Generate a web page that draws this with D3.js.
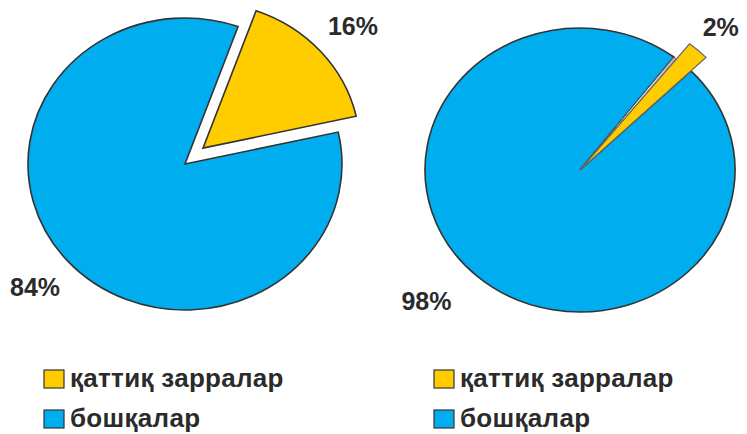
<!DOCTYPE html>
<html>
<head>
<meta charset="utf-8">
<script src="https://cdn.jsdelivr.net/npm/d3@7"></script>
<style>
  body { margin: 0; background: #fff; }
  svg { display: block; }
  text { font-family: "Liberation Sans", Arial, sans-serif; font-weight: bold; fill: #2b2b2b; }
</style>
</head>
<body>
<svg></svg>
<script>
var w = 747, h = 434;

// data
var categories = ["қаттиқ зарралар", "бошқалар"];
var leftValues = [16, 84];
var rightValues = [2, 98];
var colors = ["#ffcc00", "#00aeef"];

var svg = d3.select("svg").attr("width", w).attr("height", h);

var color = d3.scaleOrdinal().domain(categories).range(colors);

function pctLabel(x, y, v) {
    svg.append("text")
        .attr("x", x)
        .attr("y", y)
        .attr("dy", "0.36em")
        .attr("text-anchor", "middle")
        .style("font-size", "25px")
        .text(v + "%");
}

// left pie: yellow slice pulled out
function drawLeft() {
    var cx = 185, cy = 164, r = 157, sy = 0.93, explode = 24, labelR = 200;
    var pie = d3.pie().sort(null).value(d => d.v)
        .startAngle(0.345).endAngle(0.345 + 2 * Math.PI);
    var arcs = pie(categories.map((c, i) => ({c: c, v: leftValues[i]})));
    var arc = d3.arc().innerRadius(0).outerRadius(r);

    var g = svg.append("g").attr("transform", "translate(" + cx + "," + cy + ") scale(1," + sy + ")");

    arcs.forEach((d, i) => {
        var mid = (d.startAngle + d.endAngle) / 2;
        var off = i == 0 ? explode : 0;
        var ox = Math.sin(mid) * off, oy = -Math.cos(mid) * off / sy;
        g.append("path")
            .attr("d", arc(d))
            .attr("transform", "translate(" + ox + "," + oy + ")")
            .attr("fill", color(d.data.c))
            .attr("stroke", "#333")
            .attr("stroke-width", 1.6)
            .attr("stroke-linejoin", "miter")
            .attr("vector-effect", "non-scaling-stroke");
        var lr = labelR + off;
        pctLabel(cx + Math.sin(mid) * lr, cy - Math.cos(mid) * lr * sy, d.data.v);
    });
}

// right pie: thin yellow sliver sticking out
function drawRight() {
    var cx = 580, cy = 170, r = 155, sy = 0.916, labelR = 210, gap = 0.022;
    var pie = d3.pie().sort(null).value(d => d.v)
        .startAngle(0.672).endAngle(0.672 + 2 * Math.PI);
    var arcs = pie(categories.map((c, i) => ({c: c, v: rightValues[i]})));
    var arc = d3.arc().innerRadius(0).outerRadius(r);

    var g = svg.append("g").attr("transform", "translate(" + cx + "," + cy + ") scale(1," + sy + ")");

    var defs = svg.append("defs");
    var grad = defs.append("linearGradient").attr("id", "bevel")
        .attr("x1", "0").attr("y1", "0").attr("x2", "1").attr("y2", "0");
    grad.append("stop").attr("offset", "0").attr("stop-color", "#8a8a8a");
    grad.append("stop").attr("offset", "0.5").attr("stop-color", "#ffffff");
    grad.append("stop").attr("offset", "1").attr("stop-color", "#b0b0b0");

    var yellow = arcs[0], blue = arcs[1];
    // blue body, leaving a thin gap before the sliver
    g.append("path")
        .attr("d", arc({startAngle: blue.startAngle, endAngle: blue.endAngle - gap}))
        .attr("fill", color(blue.data.c))
        .attr("stroke", "#333")
        .attr("stroke-width", 1.6)
        .attr("vector-effect", "non-scaling-stroke");
    // bevel strip
    g.append("path")
        .attr("d", arc({startAngle: yellow.startAngle - gap, endAngle: yellow.startAngle}))
        .attr("fill", "url(#bevel)")
        .attr("stroke", "#555")
        .attr("stroke-width", 1)
        .attr("vector-effect", "non-scaling-stroke");
    // yellow sliver, longer than the disc
    g.append("path")
        .attr("d", d3.arc().innerRadius(0).outerRadius(r + 21)(yellow))
        .attr("fill", color(yellow.data.c))
        .attr("stroke", "#666")
        .attr("stroke-width", 1.2)
        .attr("vector-effect", "non-scaling-stroke");

    arcs.forEach((d, i) => {
        // big slice label sits a bit further round than its middle
        var mid = (d.startAngle + d.endAngle) / 2 + (i == 1 ? 0.085 : 0);
        pctLabel(cx + Math.sin(mid) * labelR, cy - Math.cos(mid) * labelR * sy, d.data.v);
    });
}

function drawLegend(x, y) {
    var rows = svg.append("g").selectAll("g").data(categories).enter().append("g")
        .attr("transform", (d, i) => "translate(" + x + "," + (y + i * 40) + ")");
    rows.append("rect")
        .attr("x", 0).attr("y", -17)
        .attr("width", 20).attr("height", 18)
        .attr("fill", d => color(d))
        .attr("stroke", "#333")
        .attr("stroke-width", 1.2);
    rows.append("text")
        .attr("x", 26).attr("y", 0)
        .style("font-size", "26px")
        .style("letter-spacing", "0.3px")
        .text(d => d);
}

drawLeft();
drawRight();
drawLegend(44, 387);
drawLegend(434, 387);
</script>
</body>
</html>
